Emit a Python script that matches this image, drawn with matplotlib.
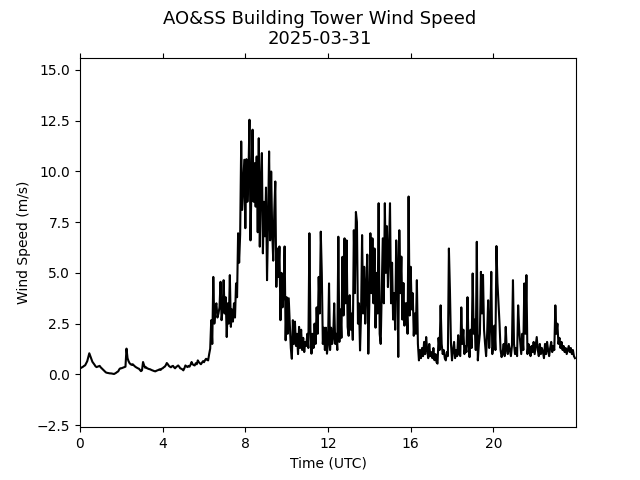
import numpy as np
import matplotlib
matplotlib.use("Agg")
import matplotlib.pyplot as plt

# wind speed (m/s), one row per hour, 3-minute steps
speed_rows = [
    [0.30, 0.32, 0.35, 0.38, 0.42, 0.45, 0.55, 0.65, 0.85, 1.04, 0.90, 0.75, 0.62, 0.55, 0.48, 0.40, 0.36, 0.38, 0.40, 0.42],
    [0.35, 0.30, 0.25, 0.20, 0.15, 0.10, 0.08, 0.07, 0.06, 0.05, 0.05, 0.04, 0.03, 0.02, 0.05, 0.08, 0.12, 0.15, 0.25, 0.30],
    [0.30, 0.32, 0.34, 0.36, 0.38, 1.27, 0.80, 0.65, 0.55, 0.50, 0.47, 0.50, 0.45, 0.40, 0.36, 0.33, 0.30, 0.28, 0.22, 0.16],
    [0.20, 0.61, 0.45, 0.33, 0.35, 0.30, 0.28, 0.26, 0.25, 0.22, 0.20, 0.18, 0.16, 0.15, 0.18, 0.20, 0.22, 0.25, 0.22, 0.28],
    [0.30, 0.35, 0.38, 0.45, 0.56, 0.50, 0.42, 0.38, 0.35, 0.40, 0.42, 0.35, 0.30, 0.36, 0.40, 0.44, 0.38, 0.30, 0.28, 0.25],
    [0.20, 0.30, 0.44, 0.40, 0.36, 0.42, 0.38, 0.48, 0.61, 0.50, 0.46, 0.44, 0.55, 0.50, 0.69, 0.60, 0.55, 0.50, 0.58, 0.65],
    [0.60, 0.70, 0.77, 0.72, 0.69, 1.00, 1.27, 2.67, 1.50, 4.80, 2.50, 3.30, 3.50, 2.80, 3.00, 3.30, 4.56, 2.67, 3.20, 4.64],
    [3.00, 3.80, 1.84, 3.50, 2.50, 4.89, 2.34, 3.20, 2.60, 3.50, 2.80, 4.48, 3.80, 6.95, 5.50, 6.90, 11.47, 8.10, 9.30, 10.57],
    [7.20, 10.60, 8.50, 9.80, 12.54, 6.60, 9.50, 12.05, 8.50, 10.40, 8.26, 10.73, 7.00, 11.63, 6.29, 9.50, 10.90, 5.96, 8.50, 6.80],
    [9.20, 4.64, 7.50, 10.98, 6.60, 9.99, 7.00, 5.60, 8.00, 9.50, 4.31, 6.20, 4.80, 6.30, 2.67, 5.00, 3.30, 4.00, 6.30, 1.68],
    [3.80, 2.00, 3.75, 2.50, 1.30, 0.77, 2.67, 1.50, 2.60, 1.40, 2.00, 1.00, 2.34, 1.30, 2.20, 1.20, 1.80, 1.10, 1.60, 1.40],
    [2.00, 1.30, 6.95, 2.20, 1.02, 2.00, 1.30, 2.50, 1.50, 3.30, 2.00, 4.80, 3.00, 7.03, 5.00, 1.50, 2.30, 1.20, 2.30, 1.02],
    [1.50, 4.48, 1.20, 2.30, 1.50, 1.80, 3.50, 1.50, 2.00, 1.20, 6.78, 1.60, 3.20, 1.80, 5.79, 2.90, 6.70, 3.50, 6.60, 2.34],
    [1.90, 3.90, 2.20, 3.00, 1.70, 7.10, 4.00, 8.00, 7.50, 2.50, 3.50, 1.18, 3.00, 6.86, 3.00, 5.30, 2.50, 4.30, 5.90, 1.02],
    [3.50, 6.95, 4.00, 6.70, 3.50, 6.20, 2.30, 5.00, 3.00, 8.43, 2.00, 1.50, 4.00, 6.70, 3.50, 8.43, 5.00, 7.30, 4.30, 6.00],
    [8.43, 3.50, 5.50, 2.70, 4.00, 2.20, 6.60, 5.30, 0.86, 7.10, 4.00, 5.80, 2.70, 4.50, 2.40, 3.50, 3.50, 2.00, 8.76, 2.90],
    [5.30, 3.20, 4.00, 1.90, 3.00, 2.00, 4.64, 1.50, 0.69, 1.20, 0.80, 1.30, 0.90, 1.60, 1.00, 1.84, 1.20, 0.80, 1.50, 0.90],
    [1.10, 0.80, 1.30, 0.70, 1.00, 0.60, 0.53, 1.80, 1.20, 3.40, 1.50, 1.00, 1.20, 0.80, 0.69, 1.10, 0.90, 6.20, 4.15, 1.50],
    [0.69, 1.20, 1.60, 0.80, 1.20, 0.90, 1.93, 1.00, 0.90, 3.30, 1.50, 2.20, 1.00, 1.40, 1.10, 3.80, 1.50, 0.85, 2.20, 1.30],
    [4.97, 2.00, 2.70, 1.20, 6.53, 0.69, 1.50, 2.00, 5.05, 3.00, 4.90, 2.20, 1.50, 0.90, 2.00, 3.65, 1.30, 2.40, 5.05, 1.00],
    [1.50, 2.40, 1.20, 6.32, 4.50, 3.50, 2.50, 1.20, 0.85, 1.10, 1.50, 0.90, 2.34, 1.20, 1.00, 1.50, 1.20, 0.90, 1.40, 4.64],
    [1.50, 1.00, 1.30, 0.90, 3.40, 2.20, 1.60, 1.00, 2.00, 1.20, 4.48, 2.00, 4.89, 1.00, 1.50, 1.30, 0.90, 1.40, 1.10, 1.60],
    [1.00, 1.40, 1.84, 1.20, 0.90, 1.50, 1.00, 1.30, 1.10, 0.80, 1.50, 1.00, 1.60, 1.20, 0.90, 1.30, 1.60, 1.10, 1.40, 1.20],
    [3.40, 2.00, 2.50, 1.50, 1.80, 1.30, 1.60, 1.20, 1.40, 1.10, 1.30, 1.00, 1.20, 1.40, 1.10, 1.30, 1.00, 1.20, 0.90, 0.80],
]

xticks = [0, 4, 8, 12, 16, 20]

speed = np.concatenate(speed_rows)
hours = np.arange(len(speed)) * 0.05  # 3-minute samples

fig, ax = plt.subplots(figsize=(6.4, 4.8), dpi=100)
ax.plot(hours, speed, color='black', linewidth=1.5)
ax.set_xlim(0, 24)
ax.set_ylim(-2.6, 15.6)
ax.set_xticks(xticks)
ax.tick_params(axis='x', top=True)
ax.set_xlabel('Time (UTC)')
ax.set_ylabel('Wind Speed (m/s)')
fig.suptitle('AO&SS Building Tower Wind Speed\n2025-03-31', fontsize=13)
fig.savefig('out.png')
